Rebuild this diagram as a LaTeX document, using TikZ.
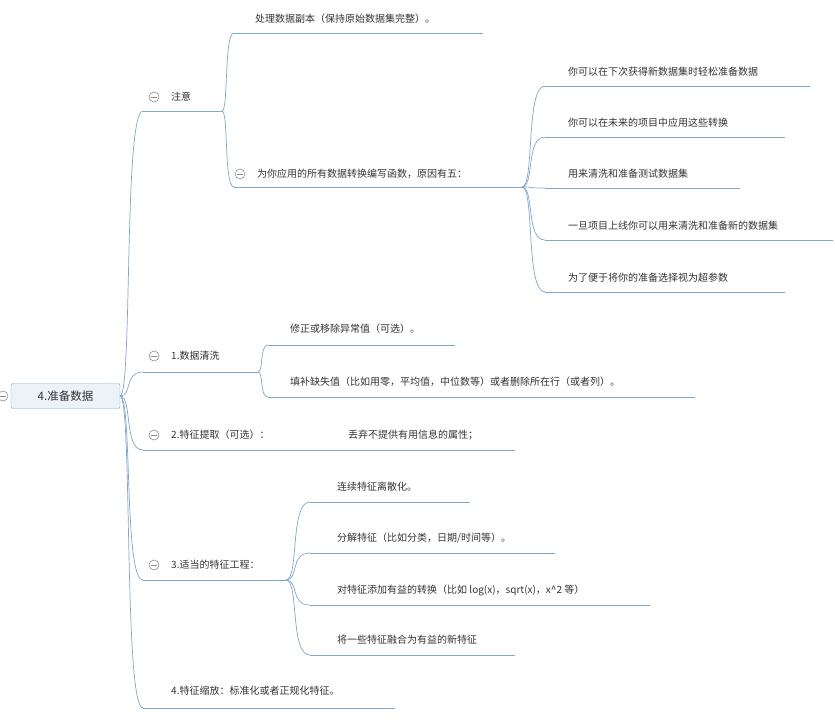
\documentclass[tikz,border=0pt]{standalone}
\usepackage{fontspec}
\usetikzlibrary{calc}
\setmainfont{Noto Sans CJK SC}
\begin{document}
\begin{tikzpicture}[x=1pt,y=-1pt,
  lnk/.style={draw=lineblue,line width=0.7pt},
  txt/.style={anchor=west,inner sep=0pt,text=black!80,font=\fontsize{10}{12}\selectfont},
  fold/.style={circle,draw=black!45,line width=0.6pt,minimum size=10pt,inner sep=0pt,
     path picture={\draw[black!45,line width=0.6pt] ([xshift=-3pt]path picture bounding box.center)--([xshift=3pt]path picture bounding box.center);}}]
\definecolor{lineblue}{HTML}{7FA7C9}
\definecolor{rootfill}{HTML}{EBF3F9}
\useasboundingbox (0,0) rectangle (835,720);
\newcommand{\cv}[2]{\path let \p1=(#1), \p2=(#2) in coordinate (ca) at (\x1+0.55*\x2-0.55*\x1,\y1) coordinate (cb) at (\x1+0.15*\x2-0.15*\x1,\y2);
  \draw[lnk] (#1) .. controls (ca) and (cb) .. (#2);}
% root
\node[fold] (rf) at (3,396) {};
\node[draw=lineblue,fill=rootfill,rounded corners=2pt,minimum width=109pt,minimum height=25pt,font=\fontsize{11.5}{13}\selectfont,text=black!80] (root) at (65.5,396) {4.准备数据};
\coordinate (r) at (120,396);
% level 1
\node[fold] (f1) at (154,97) {}; \node[txt] (t1) at (171,97) {注意};
\coordinate (a1) at (143,111); \coordinate (b1) at (222,111); \draw[lnk] (a1)--(b1);
\node[fold] (f2) at (154,356) {}; \node[txt] (t2) at (171,356) {1.数据清洗};
\coordinate (a2) at (143,372); \coordinate (b2) at (258,372); \draw[lnk] (a2)--(b2);
\node[fold] (f3) at (154,435) {}; \node[txt] (t3) at (171,435) {2.特征提取（可选）：};
\node[txt] (t3b) at (348,435) {丢弃不提供有用信息的属性；};
\coordinate (a3) at (143,450); \coordinate (b3) at (515,450); \draw[lnk] (a3)--(b3);
\node[fold] (f4) at (154,565) {}; \node[txt] (t4) at (171,565) {3.适当的特征工程：};
\coordinate (a4) at (143,580); \coordinate (b4) at (286,580); \draw[lnk] (a4)--(b4);
\node[txt] (t5) at (171,691) {4.特征缩放：标准化或者正规化特征。};
\coordinate (a5) at (143,708); \coordinate (b5) at (395,708); \draw[lnk] (a5)--(b5);
\cv{r}{a1}\cv{r}{a2}\cv{r}{a3}\cv{r}{a4}\cv{r}{a5}
% 注意 children
\node[txt] (u1) at (255,19) {处理数据副本（保持原始数据集完整）。};
\coordinate (ua1) at (234,33); \coordinate (ub1) at (483,33); \draw[lnk] (ua1)--(ub1);
\node[fold] (uf2) at (240,174) {}; \node[txt] (u2) at (257,174) {为你应用的所有数据转换编写函数，原因有五：};
\coordinate (ua2) at (234,187); \coordinate (ub2) at (522,187); \draw[lnk] (ua2)--(ub2);
\cv{b1}{ua1}\cv{b1}{ua2}
% five reasons
\foreach \y/\e/\t [count=\i] in {72/810/你可以在下次获得新数据集时轻松准备数据,123/785/你可以在未来的项目中应用这些转换,174/740/用来清洗和准备测试数据集,226/833/一旦项目上线你可以用来清洗和准备新的数据集,278/785/为了便于将你的准备选择视为超参数}{
  \node[txt] (v\i) at (568,\y) {\t};
  \coordinate (va\i) at (545,\y+14); \coordinate (vb\i) at (\e,\y+14); \draw[lnk] (va\i)--(vb\i);
  \cv{ub2}{va\i}}
% 数据清洗 children
\node[txt] (w1) at (290,329) {修正或移除异常值（可选）。};
\coordinate (wa1) at (268,345); \coordinate (wb1) at (455,345); \draw[lnk] (wa1)--(wb1);
\node[txt] (w2) at (290,382) {填补缺失值（比如用零，平均值，中位数等）或者删除所在行（或者列）。};
\coordinate (wa2) at (268,397); \coordinate (wb2) at (695,397); \draw[lnk] (wa2)--(wb2);
\cv{b2}{wa1}\cv{b2}{wa2}
% 特征工程 children
\foreach \y/\e/\t [count=\i] in {487/470/{连续特征离散化。},538/555/{分解特征（比如分类，日期/时间等）。},590/650/{对特征添加有益的转换（比如 log(x)，sqrt(x)，x\^{}2 等）},640/515/{将一些特征融合为有益的新特征}}{
  \node[txt] (x\i) at (337,\y) {\t};
  \coordinate (xa\i) at (310,\y+15); \coordinate (xb\i) at (\e,\y+15); \draw[lnk] (xa\i)--(xb\i);
  \cv{b4}{xa\i}}
\end{tikzpicture}
\end{document}
